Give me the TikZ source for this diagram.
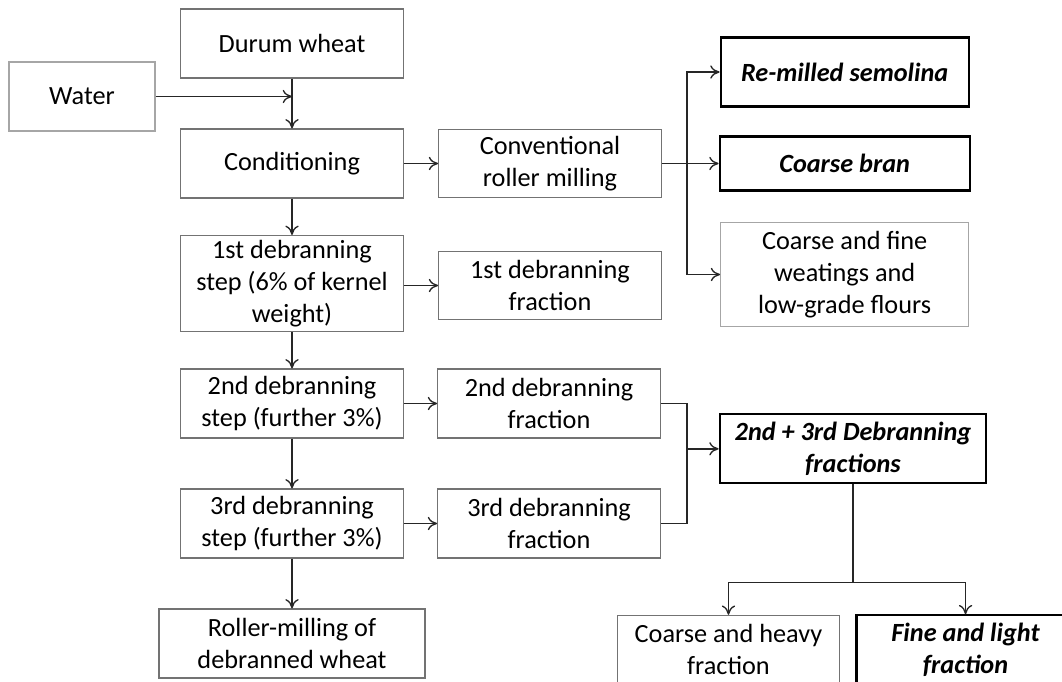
\documentclass[tikz,border=0pt]{standalone}
\usepackage{fontspec}
\setmainfont{Carlito}
\usepackage{xcolor}
\usepackage{tikz}
\usetikzlibrary{shapes.geometric, arrows.meta, positioning}
\tikzstyle{stepbox} = [rectangle, minimum width=167pt, minimum height=51.75pt, inner sep=2pt, text centered, draw=black!55, line width=0.8pt]
\tikzstyle{inputbox} = [rectangle, minimum width=109.5pt, minimum height=51.75pt, inner sep=2pt, text centered, draw=black!35, line width=0.8pt]
\tikzstyle{product} = [rectangle, minimum width=186pt, minimum height=51.75pt, inner sep=2pt, text centered, draw=black, line width=1.6pt, font=\fontsize{19.7}{24}\selectfont\bfseries\itshape]
\tikzstyle{arrow} = [line width=1pt, draw=black!85, -{To[length=7pt,width=10pt]}]
\tikzstyle{line} = [line width=1pt, draw=black!85]
\tikzset{every node/.style={align=center, font=\fontsize{19.7}{24}\selectfont}}

\begin{document}
\begin{tikzpicture}[x=0.75pt, y=-0.75pt, node distance=90pt]
    \useasboundingbox (0,0) rectangle (1062,681);
    % main column
    \node (durum)  [stepbox] at (292,43.5) {Durum wheat};
    \node (cond)   [stepbox, below of=durum] {Conditioning};
    \node (step1)  [stepbox, below of=cond, minimum height=72pt] {1st debranning\\step (6\% of kernel\\weight)};
    \node (step2)  [stepbox, below of=step1] {2nd debranning\\step (further 3\%)};
    \node (step3)  [stepbox, below of=step2] {3rd debranning\\step (further 3\%)};
    \node (roller) [stepbox, below of=step3, minimum width=199.5pt] {Roller-milling of\\debranned wheat};
    \node (water)  [inputbox, left of=durum, xshift=-67.5pt, yshift=-39.75pt] {Water};

    % fractions
    \node (conv)  [stepbox, right of=cond, xshift=103.5pt, minimum height=51pt] {Conventional\\roller milling};
    \node (frac1) [stepbox, right of=step1, xshift=103.5pt, yshift=-1.5pt, minimum height=51pt] {1st debranning\\fraction};
    \node (frac2) [stepbox, right of=step2, xshift=102.75pt] {2nd debranning\\fraction};
    \node (frac3) [stepbox, right of=step3, xshift=102.75pt] {3rd debranning\\fraction};

    \node (bran)     [product, right of=conv, xshift=131pt, minimum width=187.5pt, minimum height=40.5pt] {Coarse bran};
    \node (remilled) [product, above of=bran, yshift=-21.4pt] {Re-milled semolina};
    \node (weat)     [stepbox, below of=bran, yshift=6.75pt, minimum width=186pt, minimum height=78pt, draw=black!35] {Coarse and fine\\weatings and\\low-grade flours};

    \node (comb)  [product, right of=frac2, xshift=138pt, yshift=-34pt, minimum width=200pt] {2nd + 3rd Debranning\\fractions};
    \node (heavy) [stepbox, below of=comb, xshift=-93.4pt, yshift=-60.75pt] {Coarse and heavy\\fraction};
    \node (fine)  [product, below of=comb, xshift=84.4pt, yshift=-60.75pt, minimum width=163.5pt] {Fine and light\\fraction};

    \coordinate (split) at ([xshift=18.75pt]conv.east);
    \coordinate (join)  at ([xshift=19.5pt]frac2.east);
    \coordinate (fork)  at ([yshift=-73.5pt]comb.south);

    \draw [arrow] (durum) -- (cond);
    \draw [arrow] (water.east) -- (water.east -| durum.south);
    \draw [arrow] (cond)  -- (step1);
    \draw [arrow] (step1) -- (step2);
    \draw [arrow] (step2) -- (step3);
    \draw [arrow] (step3) -- (roller);
    \draw [arrow] (cond)  -- (conv);
    \draw [arrow] (step1.east |- frac1.west) -- (frac1.west);
    \draw [arrow] (step2) -- (frac2);
    \draw [arrow] (step3) -- (frac3);
    \draw [arrow] (conv)  -- (bran);
    \draw [arrow] (split) |- (remilled.west);
    \draw [arrow] (split) |- (weat.west);
    \draw [line]  (frac2.east) -- (join) |- (frac3.east);
    \draw [arrow] (join |- comb.west) -- (comb.west);
    \draw [line]  (comb.south) -- (fork);
    \draw [arrow] (fork) -| (heavy.north);
    \draw [arrow] (fork) -| (fine.north);
\end{tikzpicture}
\end{document}
